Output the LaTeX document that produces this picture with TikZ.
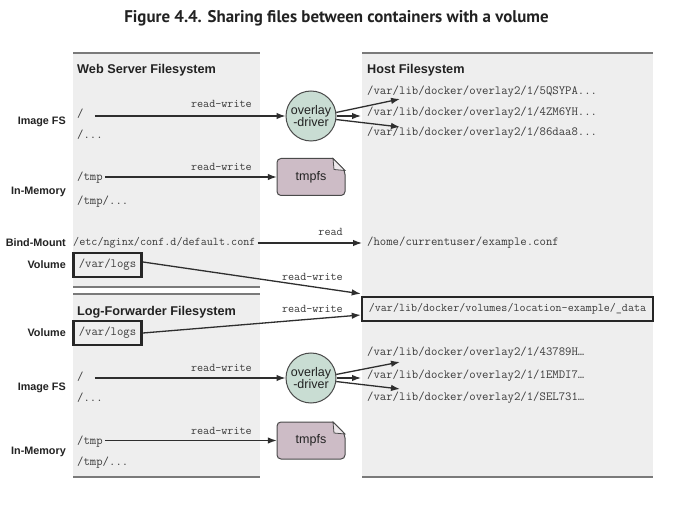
\documentclass[tikz,border=0pt]{standalone}
\usepackage{fontspec}
\setmainfont{Liberation Sans}
\newfontfamily\titlefont{PT Sans}
\usepackage{tikz}
\usetikzlibrary{arrows.meta}

\definecolor{panelgray}{HTML}{EEEEEE}
\definecolor{panelline}{HTML}{7A7A7A}
\definecolor{monotext}{HTML}{3A3A3A}
\definecolor{labeltext}{HTML}{222222}
\definecolor{wirecol}{HTML}{2E2E2E}
\definecolor{edgecol}{HTML}{4A4A4A}
\definecolor{drivergreen}{HTML}{C9DDD3}
\definecolor{tmpfsmauve}{HTML}{CDBCC6}

\tikzset{
	mono/.style={font=\ttfamily\fontsize{12.4}{14}\selectfont, text=monotext, inner sep=0pt, anchor=west},
	monosmall/.style={mono, font=\ttfamily\fontsize{11.8}{14}\selectfont},
	sidelabel/.style={font=\bfseries\fontsize{10.8}{12}\selectfont, text=labeltext, inner sep=0pt, anchor=east},
	heading/.style={font=\bfseries\fontsize{12.7}{14}\selectfont, text=labeltext, inner sep=0pt, anchor=west},
	rwlabel/.style={monosmall, anchor=east},
	wire/.style={draw=wirecol, line width=1.3pt, -{Latex[length=9pt, width=6.5pt]}},
	driver/.style={circle, draw=edgecol, line width=1pt, fill=drivergreen, minimum size=50pt, inner sep=0pt, align=center, font=\fontsize{12.5}{12.5}\selectfont, text=labeltext},
	tmpfsbox/.style={minimum width=68pt, minimum height=37pt, inner sep=0pt, font=\fontsize{12.5}{13}\selectfont, text=labeltext},
	volbox/.style={draw=black!85, line width=2.5pt, minimum height=24pt, inner xsep=5.5pt, inner ysep=0pt, font=\ttfamily\fontsize{12.4}{14}\selectfont, text=monotext},
	panelrule/.style={draw=panelline, line width=2pt}
}

% folded-corner box behind a tmpfs node
\newcommand{\tmpfsnode}[2]{%
	\begin{scope}[shift={(#2)}]
		\filldraw[draw=edgecol, line width=1pt, fill=tmpfsmauve, rounded corners=4pt]
			(22,-18.5) -- (-34,-18.5) -- (-34,18.5) -- (34,18.5) -- (34,-6.5) [sharp corners] -- cycle;
		\filldraw[draw=edgecol, line width=0.8pt, fill=tmpfsmauve!35!white]
			(22,-18.5) -- (34,-6.5) -- (23,-7.5) -- cycle;
	\end{scope}
	\node[tmpfsbox] (#1) at (#2) {tmpfs};
}

\begin{document}
\begin{tikzpicture}[x=1pt, y=-1pt]
	\useasboundingbox[fill=white] (0,0) rectangle (673,508);

	% Title:
	\node[font=\titlefont\bfseries\fontsize{16.9}{19}\selectfont, text=labeltext] (title) at (336.5,18) {Figure 4.4. Sharing files between containers with a volume};

	% Panels:
	\fill[panelgray] (73,53) rectangle (260,287);
	\draw[panelrule] (73,53) -- (260,53);
	\draw[panelrule, line width=1.5pt] (73,287) -- (260,287);
	\fill[panelgray] (73,294) rectangle (260,477);
	\draw[panelrule, line width=1.5pt] (73,294) -- (260,294);
	\draw[panelrule] (73,477) -- (260,477);
	\fill[panelgray] (362,53) rectangle (653,477);
	\draw[panelrule] (362,53) -- (653,53);
	\draw[panelrule] (362,477) -- (653,477);

	% Headings:
	\node[heading] (webhead) at (77,70) {Web Server Filesystem};
	\node[heading] (hosthead) at (367,70) {Host Filesystem};
	\node[heading] (loghead) at (77,312) {Log-Forwarder Filesystem};

	% Side labels:
	\node[sidelabel] (imgA) at (66,122) {Image FS};
	\node[sidelabel] (memA) at (66,192) {In-Memory};
	\node[sidelabel] (bind) at (66,243) {Bind-Mount};
	\node[sidelabel] (volLabA) at (66,265) {Volume};
	\node[sidelabel] (volLabB) at (66,333) {Volume};
	\node[sidelabel] (imgB) at (66,388) {Image FS};
	\node[sidelabel] (memB) at (66,452) {In-Memory};

	% Web server filesystem:
	\node[mono] (rootA) at (77,114) {/};
	\node[mono] (rootdotsA) at (77,135) {/...};
	\node[mono] (tmpA) at (77,178) {/tmp};
	\node[mono] (tmpdotsA) at (77,202) {/tmp/...};
	\node[monosmall] (etc) at (73,243) {/etc/nginx/conf.d/default.conf};
	\node[volbox, anchor=west] (volA) at (72,265) {/var/logs};

	% Log-forwarder filesystem:
	\node[volbox, anchor=west] (volB) at (72,333) {/var/logs};
	\node[mono] (rootB) at (77,377) {/};
	\node[mono] (rootdotsB) at (77,398) {/...};
	\node[mono] (tmpB) at (77,442) {/tmp};
	\node[mono] (tmpdotsB) at (77,463) {/tmp/...};

	% Host filesystem:
	\node[mono] (hostA1) at (367,92) {/var/lib/docker/overlay2/1/5QSYPA...};
	\node[mono] (hostA2) at (367,113) {/var/lib/docker/overlay2/1/4ZM6YH...};
	\node[mono] (hostA3) at (367,133) {/var/lib/docker/overlay2/1/86daa8...};
	\node[mono] (home) at (367,243) {/home/currentuser/example.conf};
	\node[volbox, font=\ttfamily\fontsize{11.7}{13}\selectfont, minimum width=291pt] (hostvol) at (507.5,309) {/var/lib/docker/volumes/location-example/\_data};
	\node[mono] (hostB1) at (367,353) {/var/lib/docker/overlay2/1/43789H…};
	\node[mono] (hostB2) at (367,376) {/var/lib/docker/overlay2/1/1EMDI7…};
	\node[mono] (hostB3) at (367,398) {/var/lib/docker/overlay2/1/SEL731…};

	% Drivers and tmpfs:
	\node[driver] (driverA) at (311,116) {overlay\\-driver};
	\node[driver] (driverB) at (311,378) {overlay\\-driver};
	\tmpfsnode{tmpfsA}{311,177}
	\tmpfsnode{tmpfsB}{311,440.5}

	% Arrow ends:
	\coordinate (tipA1) at (400,99);
	\coordinate (tipA2) at (361,116);
	\coordinate (tipA3) at (400,127);
	\coordinate (tipB1) at (400,362);
	\coordinate (tipB2) at (361,378);
	\coordinate (tipB3) at (400,389);

	% Labels on wires:
	\node[rwlabel] (rwA1) at (252,104) {read-write};
	\node[rwlabel] (rwA2) at (252,167) {read-write};
	\node[rwlabel] (rdbind) at (343,232) {read};
	\node[rwlabel] (rwvolA) at (343,277) {read-write};
	\node[rwlabel] (rwvolB) at (343,309) {read-write};
	\node[rwlabel] (rwB1) at (252,368) {read-write};
	\node[rwlabel] (rwB2) at (252,431) {read-write};

	% Wires:
	\draw[wire, shorten <=11pt] (rootA.east |- driverA.west) -- (driverA.west);
	\draw[wire, shorten <=2pt] (tmpA.east |- tmpfsA.west) -- (tmpfsA.west);
	\draw[wire] (driverA.8) -- (tipA1);
	\draw[wire] (driverA.east) -- (tipA2);
	\draw[wire] (driverA.-8) -- (tipA3);
	\draw[wire, shorten <=2pt, shorten >=5pt] (etc.east) -- (home.west);
	\draw[wire] ([yshift=3pt]volA.east) -- ([yshift=2pt]hostvol.north west);
	\draw[wire] (volB.east) -- ([yshift=-6pt]hostvol.west);
	\draw[wire, shorten <=11pt] (rootB.east |- driverB.west) -- (driverB.west);
	\draw[wire, shorten <=2pt] (tmpB.east |- tmpfsB.west) -- (tmpfsB.west);
	\draw[wire] (driverB.8) -- (tipB1);
	\draw[wire] (driverB.east) -- (tipB2);
	\draw[wire] (driverB.-8) -- (tipB3);
\end{tikzpicture}
\end{document}
